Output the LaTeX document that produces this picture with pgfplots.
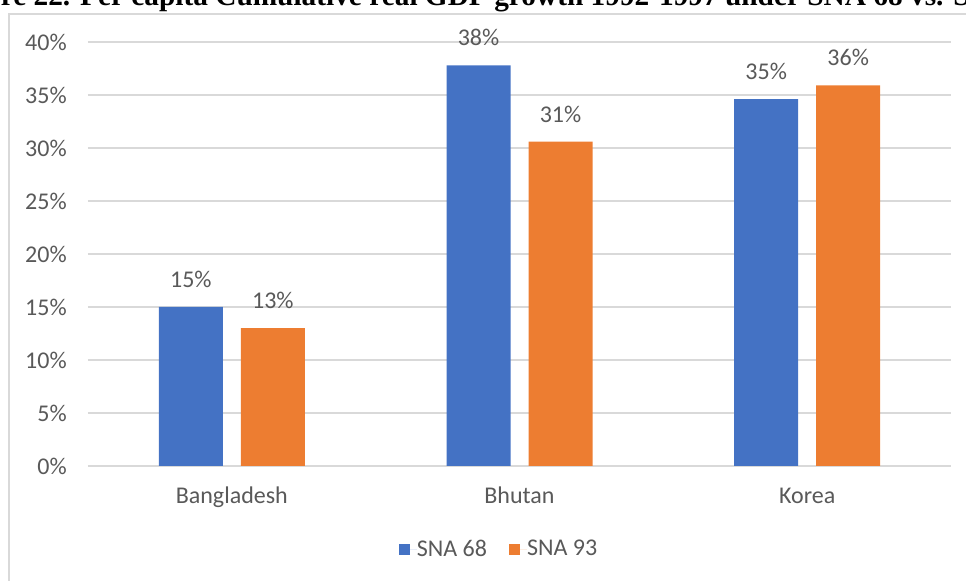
\documentclass[border=0pt]{standalone}
\usepackage{fontspec}
\setmainfont{Carlito}
\newfontfamily\titlefont{Liberation Serif}
\usepackage{pgfplots}
\pgfplotsset{compat=1.18}

\definecolor{snaA}{HTML}{4472C4}
\definecolor{snaB}{HTML}{ED7D31}
\definecolor{gridc}{HTML}{D9D9D9}
\definecolor{txt}{HTML}{595959}

\pgfplotsset{
  sqleg/.style={legend image code/.code={%
    \path (0pt,0pt) rectangle (13.5pt,0pt);
    \fill (0pt,-4.125pt) rectangle (8.25pt,4.125pt);}},
}

\begin{document}
\begin{tikzpicture}
\path[use as bounding box, clip] (0,0) rectangle (724.5pt,435.75pt);
% caption line of the page, running past the frame
\node[anchor=base west, inner sep=0pt, font=\titlefont\bfseries\fontsize{22}{26}\selectfont]
  at (0.4pt,431.25pt) {\llap{Figu}re 22. Per capita Cumulative real GDP growth 1992-1997 under SNA 68 vs. SNA 93};
% chart frame
\draw[gridc, line width=1pt] (6.75pt,425.25pt) rectangle (760pt,-20pt);
\begin{axis}[
  at={(66pt,86.25pt)}, anchor=south west,
  scale only axis, width=647.25pt, height=318pt,
  ybar=13.5pt, bar width=48pt,
  xmin=-0.5, xmax=2.5, ymin=0, ymax=40,
  xtick={0,1,2}, xticklabels={Bangladesh,Bhutan,Korea},
  ytick={0,5,...,40},
  yticklabel={\pgfmathprintnumber{\tick}\%},
  axis x line*=bottom, axis y line*=left,
  x axis line style={gridc, line width=1pt},
  y axis line style={draw=none},
  ymajorgrids, grid style={gridc, line width=1pt},
  major tick length=0pt,
  /pgf/number format/assume math mode=true,
  tick label style={font=\fontsize{18}{21}\selectfont, text=txt, inner sep=0pt},
  yticklabel style={anchor=east},
  yticklabel shift=15.75pt,
  xticklabel style={anchor=base},
  xticklabel shift=28.5pt,
  nodes near coords={\pgfmathprintnumber[fixed,precision=0]{\pgfplotspointmeta}\%},
  nodes near coords style={anchor=base, yshift=14.6pt, inner sep=0pt,
    font=\fontsize{18}{21}\selectfont, text=txt},
  legend columns=2,
  legend style={at={(0.4751,-0.1958)}, anchor=center, draw=none, fill=none,
    font=\fontsize{18}{21}\selectfont, text=txt,
    nodes={inner sep=0pt}, column sep=0pt,
    /tikz/every even column/.append style={column sep=16.5pt}},
]
\addplot[fill=snaA, draw=none, sqleg] coordinates {(0,15.0) (1,37.8) (2,34.6)};
\addplot[fill=snaB, draw=none, sqleg] coordinates {(0,13.0) (1,30.6) (2,35.9)};
\legend{SNA 68, SNA 93}
\end{axis}
\end{tikzpicture}
\end{document}
